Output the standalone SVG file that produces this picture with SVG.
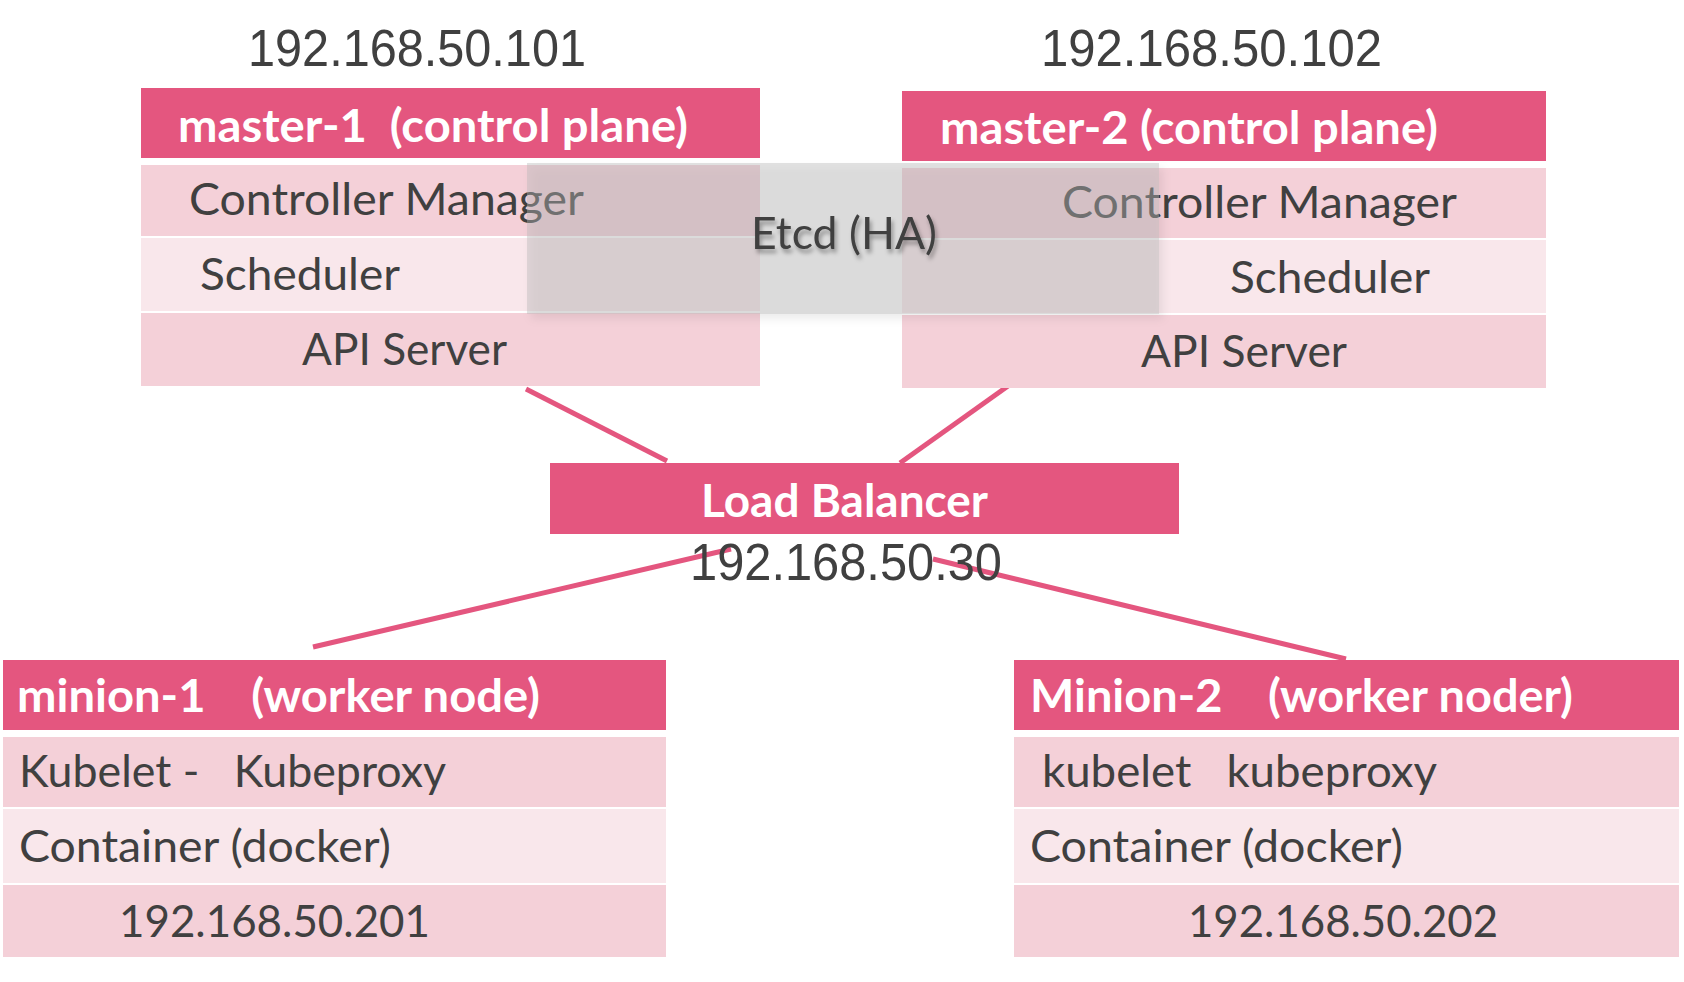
<svg xmlns="http://www.w3.org/2000/svg" width="1684" height="982" viewBox="0 0 1684 982">
<style>
.hdr{fill:#E4567F}
.r1{fill:#F4D0D8}
.r2{fill:#F9E7EB}
.ht{font-family:Lato,"Open Sans","Liberation Sans",sans-serif;font-weight:bold;font-size:46px;fill:#FFFFFF;white-space:pre}
.rt{font-family:Lato,"Open Sans","Liberation Sans",sans-serif;font-size:44px;fill:#404040;white-space:pre}
.ip{font-family:"Liberation Sans",Arial,sans-serif;font-size:51px;fill:#404040}
.conn{stroke:#E4567F;stroke-width:5;fill:none}
</style>
<defs>
<filter id="sh" x="-10%" y="-10%" width="125%" height="130%">
<feDropShadow dx="4" dy="5" stdDeviation="4" flood-color="#000" flood-opacity="0.18"/>
</filter>
<filter id="tsh" x="-10%" y="-20%" width="130%" height="160%">
<feDropShadow dx="2" dy="4" stdDeviation="2" flood-color="#000" flood-opacity="0.35"/>
</filter>
</defs>
<rect width="1684" height="982" fill="#FFFFFF"/>
<g id="connectors">
<line class="conn" x1="526" y1="389" x2="667" y2="461"/>
<line class="conn" x1="1008" y1="386" x2="900" y2="463"/>
<line class="conn" x1="731" y1="549" x2="313" y2="647"/>
<line class="conn" x1="933" y1="559" x2="1346" y2="659"/>
</g>
<g id="master-1">
<text class="ip" x="248" y="66" textLength="338" lengthAdjust="spacingAndGlyphs">192.168.50.101</text>
<rect class="hdr" x="141" y="88" width="619" height="70"/>
<text class="ht" x="178" y="142" textLength="510" lengthAdjust="spacingAndGlyphs">master-1  (control plane)</text>
<rect class="r1" x="141" y="165" width="619" height="71"/>
<rect class="r2" x="141" y="238" width="619" height="73"/>
<rect class="r1" x="141" y="313" width="619" height="73"/>
<text class="rt" x="189" y="215" textLength="395" lengthAdjust="spacingAndGlyphs">Controller Manager</text>
<text class="rt" x="200" y="290" textLength="200" lengthAdjust="spacingAndGlyphs">Scheduler</text>
<text class="rt" x="302" y="365" textLength="205" lengthAdjust="spacingAndGlyphs">API Server</text>
</g>
<g id="master-2">
<text class="ip" x="1041" y="66" textLength="341" lengthAdjust="spacingAndGlyphs">192.168.50.102</text>
<rect class="hdr" x="902" y="91" width="644" height="70"/>
<text class="ht" x="940" y="144" textLength="498" lengthAdjust="spacingAndGlyphs">master-2 (control plane)</text>
<rect class="r1" x="902" y="168" width="644" height="70"/>
<rect class="r2" x="902" y="240" width="644" height="73"/>
<rect class="r1" x="902" y="315" width="644" height="73"/>
<text class="rt" x="1062" y="218" textLength="395" lengthAdjust="spacingAndGlyphs">Controller Manager</text>
<text class="rt" x="1230" y="293" textLength="200" lengthAdjust="spacingAndGlyphs">Scheduler</text>
<text class="rt" x="1141" y="367" textLength="206" lengthAdjust="spacingAndGlyphs">API Server</text>
</g>
<g id="etcd">
<rect x="527" y="163" width="632" height="151" fill="#B4B4B4" fill-opacity="0.4" filter="url(#sh)"/>
<text class="rt" x="751" y="249" textLength="186" lengthAdjust="spacingAndGlyphs" filter="url(#tsh)">Etcd (HA)</text>
</g>
<g id="load-balancer">
<rect class="hdr" x="550" y="463" width="629" height="71"/>
<text class="ht" x="701" y="517" textLength="287" lengthAdjust="spacingAndGlyphs">Load Balancer</text>
<text class="ip" x="690" y="580" textLength="312" lengthAdjust="spacingAndGlyphs">192.168.50.30</text>
</g>
<g id="minion-1">
<rect class="hdr" x="3" y="660" width="663" height="70"/>
<text class="ht" x="17" y="712" textLength="523" lengthAdjust="spacingAndGlyphs">minion-1    (worker node)</text>
<rect class="r1" x="3" y="737" width="663" height="70"/>
<rect class="r2" x="3" y="809" width="663" height="74"/>
<rect class="r1" x="3" y="885" width="663" height="72"/>
<text class="rt" x="19" y="787" textLength="427" lengthAdjust="spacingAndGlyphs">Kubelet -   Kubeproxy</text>
<text class="rt" x="19" y="862" textLength="372" lengthAdjust="spacingAndGlyphs">Container (docker)</text>
<text class="rt" x="119" y="937" textLength="311" lengthAdjust="spacingAndGlyphs">192.168.50.201</text>
</g>
<g id="minion-2">
<rect class="hdr" x="1014" y="660" width="665" height="70"/>
<text class="ht" x="1030" y="712" textLength="543" lengthAdjust="spacingAndGlyphs">Minion-2    (worker noder)</text>
<rect class="r1" x="1014" y="737" width="665" height="70"/>
<rect class="r2" x="1014" y="809" width="665" height="74"/>
<rect class="r1" x="1014" y="885" width="665" height="72"/>
<text class="rt" x="1042" y="787" textLength="395" lengthAdjust="spacingAndGlyphs">kubelet   kubeproxy</text>
<text class="rt" x="1030" y="862" textLength="373" lengthAdjust="spacingAndGlyphs">Container (docker)</text>
<text class="rt" x="1188" y="937" textLength="310" lengthAdjust="spacingAndGlyphs">192.168.50.202</text>
</g>
</svg>
